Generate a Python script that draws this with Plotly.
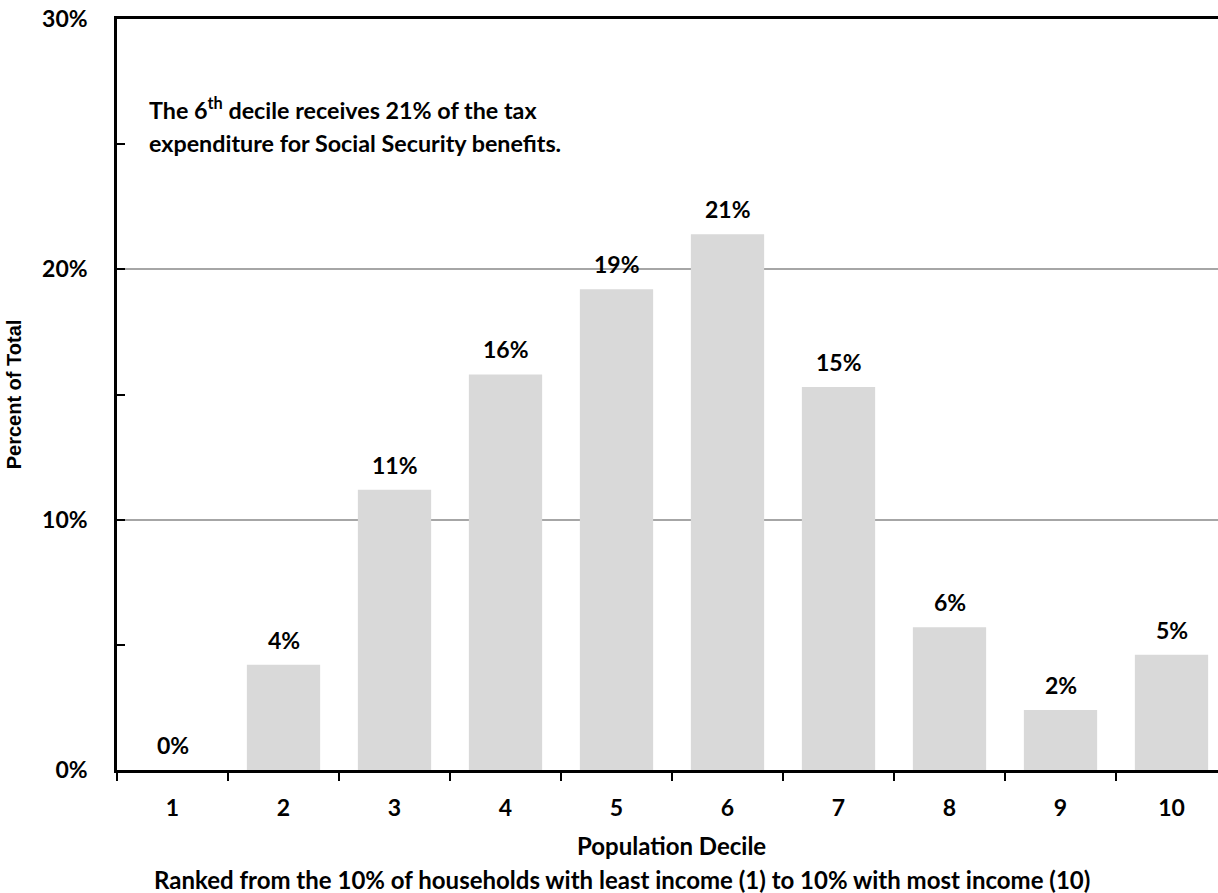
import plotly.graph_objects as go

deciles = ["1", "2", "3", "4", "5", "6", "7", "8", "9", "10"]
shares = [0.0, 4.2, 11.2, 15.8, 19.2, 21.4, 15.3, 5.7, 2.4, 4.6]
labels = ["0%", "4%", "11%", "16%", "19%", "21%", "15%", "6%", "2%", "5%"]
y_ticks = [0, 10, 20, 30]
y_ticktext = ["0%", "10%", "20%", "30%"]

FONT = "Lato"
BLACK = "#000000"
NUM_SIZE = 23
TXT_SIZE = 24

fig = go.Figure()
fig.add_trace(go.Bar(
    x=deciles, y=shares,
    marker=dict(color="#d9d9d9", line=dict(width=0)),
    width=0.66,
    hoverinfo="skip",
))

# data labels above bars (category axis -> position index)
for i, (v, t) in enumerate(zip(shares, labels)):
    fig.add_annotation(
        x=i, y=v, xref="x", yref="y", text=f"<b>{t}</b>",
        showarrow=False, yanchor="middle", yshift=25,
        font=dict(family=FONT, size=NUM_SIZE, color=BLACK),
    )

# text box
fig.add_annotation(
    x=0.027, y=(770 - 108) / 751, xref="paper", yref="paper",
    text="<b>The 6<sup>th</sup> decile receives 21% of the tax</b>",
    showarrow=False, xanchor="left", yanchor="middle", align="left",
    font=dict(family=FONT, size=23.3, color=BLACK),
)
fig.add_annotation(
    x=0.027, y=(770 - 143) / 751, xref="paper", yref="paper",
    text="<b>expenditure for Social Security benefits.</b>",
    showarrow=False, xanchor="left", yanchor="middle", align="left",
    font=dict(family=FONT, size=23.3, color=BLACK),
)

# x-axis titles
fig.add_annotation(
    x=(671 - 117) / 1101, y=(770 - 845) / 751, xref="paper", yref="paper",
    text="<b>Population Decile</b>", showarrow=False,
    xanchor="center", yanchor="middle",
    font=dict(family=FONT, size=TXT_SIZE, color=BLACK),
)
fig.add_annotation(
    x=(621.5 - 117) / 1101, y=(770 - 879) / 751, xref="paper", yref="paper",
    text="<b>Ranked from the 10% of households with least income (1) to 10% with most income (10)</b>",
    showarrow=False, xanchor="center", yanchor="middle",
    font=dict(family=FONT, size=TXT_SIZE, color=BLACK),
)

fig.update_layout(
    width=1218, height=893,
    margin=dict(l=117, r=0, t=19, b=123, autoexpand=False),
    paper_bgcolor="white", plot_bgcolor="white",
    showlegend=False,
    xaxis=dict(
        type="category",
        range=[-0.5, -0.5 + 1101 / 111],
        tickson="boundaries",
        ticks="outside", ticklen=8, tickwidth=2, tickcolor=BLACK,
        showline=True, linecolor=BLACK, linewidth=2.5, mirror=True,
        showgrid=False,
        tickvals=deciles, ticktext=[f"<b>{d}</b>" for d in deciles],
        tickfont=dict(family=FONT, size=NUM_SIZE, color=BLACK),
        ticklabelstandoff=16,
        automargin=False,
    ),
    yaxis=dict(
        range=[0, 30],
        tickvals=y_ticks, ticktext=[f"<b>{t}</b>" for t in y_ticktext],
        ticks="inside", ticklen=8, tickwidth=1.5, tickcolor=BLACK,
        minor=dict(tickvals=[5, 15, 25], ticks="inside", ticklen=8,
                   tickwidth=1.5, tickcolor=BLACK, showgrid=False),
        showline=True, linecolor=BLACK, linewidth=2.5,
        showgrid=True, gridcolor="#a6a6a6", gridwidth=1.5,
        zeroline=False,
        tickfont=dict(family=FONT, size=NUM_SIZE, color=BLACK),
        ticklabelstandoff=22,
        automargin=False,
        title=dict(text="<b>Percent of Total</b>",
                   font=dict(family="Liberation Sans", size=20, color=BLACK),
                   standoff=16),
    ),
)

fig.write_html("out.html", config={"displayModeBar": False},
               post_script="document.body.style.margin='0';")
